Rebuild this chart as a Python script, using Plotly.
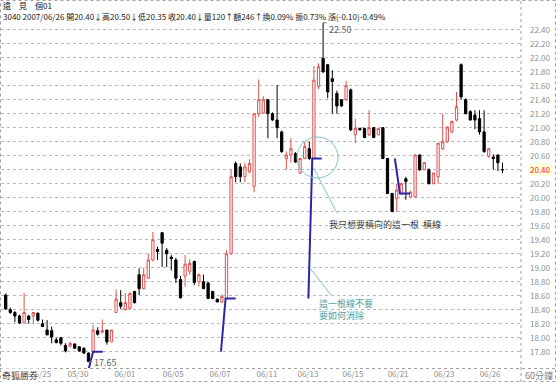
import plotly.graph_objects as go

# ---------------- data (60-minute bars, 3040 遠見) ----------------
opens = [18.61, 18.40, 18.36, 18.31, 18.21, 18.31, 18.31, 18.35, 18.20, 18.11,
         18.10, 17.97, 18.00, 17.89, 17.88, 17.91, 17.87, 17.85, 17.78, 17.80,
         18.10, 18.08, 18.11, 17.94, 18.36, 18.50, 18.40, 18.42, 18.66, 18.90,
         18.70, 18.85, 19.11, 19.26, 19.50, 19.25, 19.15, 19.11, 18.83, 18.88,
         18.95, 19.09, 18.80, 18.80, 18.78, 18.66, 18.55, 18.51, 18.56, 19.20,
         20.49, 20.44, 20.30, 20.37, 20.16, 21.20, 21.21, 21.40, 21.20, 21.11,
         20.94, 20.56, 20.61, 20.63, 20.35, 20.56, 20.70, 20.56, 21.59, 21.99,
         21.90, 21.70, 21.49, 21.40, 21.40, 21.54, 20.90, 20.99, 20.99, 20.90,
         21.00, 20.90, 21.00, 20.56, 20.06, 19.99, 20.06, 20.27, 20.01, 20.01,
         20.61, 20.40, 20.40, 20.20, 20.30, 20.70, 20.80, 20.94, 21.11, 21.90,
         21.40, 21.23, 21.18, 21.13, 20.94, 20.59, 20.58, 20.61, 20.40]
highs = [18.63, 18.43, 18.38, 18.33, 18.64, 18.32, 18.36, 18.36, 18.26, 18.25,
         18.16, 18.00, 18.01, 17.92, 17.94, 17.92, 17.88, 17.86, 17.79, 18.18,
         18.15, 18.26, 18.11, 18.11, 18.69, 18.68, 18.64, 18.65, 18.67, 18.99,
         19.00, 19.20, 19.51, 19.30, 19.51, 19.28, 19.18, 19.14, 18.88, 19.18,
         19.12, 19.10, 18.92, 18.90, 18.80, 18.67, 18.56, 18.62, 19.25, 20.40,
         20.52, 20.49, 20.50, 20.55, 21.20, 21.69, 21.45, 21.41, 21.22, 21.61,
         20.96, 20.66, 20.85, 20.65, 20.56, 20.80, 20.80, 21.88, 21.92, 22.50,
         21.91, 21.82, 21.53, 21.41, 21.67, 21.56, 21.13, 21.00, 21.00, 21.25,
         21.01, 21.00, 21.01, 20.57, 20.07, 20.20, 20.22, 20.30, 20.10, 20.62,
         20.62, 20.51, 20.42, 20.36, 20.78, 21.20, 21.02, 21.10, 21.51, 21.92,
         21.42, 21.25, 21.25, 21.25, 21.25, 20.71, 20.62, 20.62, 20.50]
lows = [18.40, 18.34, 18.22, 18.20, 18.21, 18.20, 18.20, 18.23, 18.16, 18.04,
        17.92, 17.92, 17.89, 17.79, 17.86, 17.84, 17.80, 17.77, 17.65, 17.80,
        18.03, 18.06, 17.90, 17.94, 18.36, 18.41, 18.39, 18.40, 18.49, 18.61,
        18.69, 18.84, 19.09, 19.11, 19.01, 19.01, 18.96, 18.78, 18.56, 18.73,
        18.90, 18.75, 18.73, 18.70, 18.56, 18.55, 18.51, 18.50, 18.55, 19.18,
        20.22, 20.22, 20.22, 20.35, 20.08, 21.15, 21.20, 20.85, 21.10, 20.85,
        20.64, 20.40, 20.50, 20.50, 20.34, 20.55, 20.54, 20.55, 21.55, 21.78,
        21.42, 21.20, 21.20, 21.30, 21.38, 20.95, 20.78, 20.96, 20.85, 20.88,
        20.85, 20.89, 20.55, 20.05, 19.80, 19.80, 20.04, 19.97, 20.00, 20.00,
        20.38, 20.39, 20.19, 20.19, 20.20, 20.68, 20.78, 20.92, 21.09, 21.40,
        21.19, 21.10, 20.98, 20.90, 20.64, 20.57, 20.40, 20.38, 20.35]
closes = [18.41, 18.36, 18.31, 18.21, 18.36, 18.26, 18.36, 18.25, 18.16, 18.04,
          18.01, 17.93, 17.92, 17.81, 17.92, 17.85, 17.81, 17.78, 17.66, 18.11,
          18.05, 18.10, 17.94, 18.11, 18.55, 18.45, 18.50, 18.63, 18.50, 18.70,
          18.90, 19.11, 19.40, 19.23, 19.35, 19.20, 19.13, 18.85, 18.57, 19.05,
          19.06, 18.79, 18.90, 18.70, 18.56, 18.56, 18.51, 18.59, 19.20, 20.30,
          20.30, 20.30, 20.44, 20.49, 21.20, 21.40, 21.40, 21.20, 21.11, 21.00,
          20.66, 20.61, 20.70, 20.51, 20.56, 20.73, 20.56, 21.68, 21.87, 21.80,
          21.51, 21.66, 21.31, 21.31, 21.60, 20.97, 20.99, 20.97, 20.86, 21.00,
          20.86, 20.99, 20.56, 20.06, 19.80, 20.11, 20.20, 20.23, 20.08, 20.61,
          20.40, 20.50, 20.20, 20.35, 20.78, 20.80, 21.01, 21.09, 21.30, 21.44,
          21.20, 21.11, 21.11, 20.94, 20.66, 20.70, 20.56, 20.50, 20.40]

# date labels along the bottom axis (bar index where each label sits)
date_labels = ["05/25", "05/30", "06/01", "06/05", "06/07", "06/11",
               "06/13", "06/15", "06/21", "06/23", "06/26"]
date_bars = [7.6, 15.7, 25.9, 36.4, 46.6, 56.8, 65.7, 75.5, 85.3, 95.3, 105.3]

price_ticks = [17.80, 18.00, 18.20, 18.40, 18.60, 18.80, 19.00, 19.20, 19.40,
               19.60, 19.80, 20.00, 20.20, 20.40, 20.60, 20.80, 21.00, 21.20,
               21.40, 21.60, 21.80, 22.00, 22.20, 22.40]
last_price = 20.40
high_mark = (69, 22.50)
low_mark = (18, 17.65)

# hand-drawn blue line segments (bar index, price)
blue_x = [18.0, 19.0, 21.1, None, 46.8, 47.8, 50.0, None,
          65.8, 66.65, 68.7, None, 84.6, 85.7, 87.9]
blue_y = [17.54, 17.80, 17.80, None, 17.80, 18.56, 18.56, None,
          18.56, 20.56, 20.56, None, 20.56, 20.06, 20.06]

header1 = "遠　見　個01"
header2 = ("3040 2007/06/26 開20.40↓高20.50↓低20.35 收20.40↓量120↑額246↑"
           "換0.09% 振0.73% 漲(-0.10)-0.49%")
note1 = "我只想要橫向的這一根  橫線"
note2 = "這一根線不要<br>要如何消除"

# ---------------- layout geometry ----------------
W, H = 556, 382
ML, MR, MT, MB = 1, 35, 20, 14
PW = W - ML - MR
PH = H - MT - MB
X0, DX = 5.7, 4.6          # pixel of bar 0 and bar spacing
Y20, PPU = 197.7, 70.0     # pixel of price 20.00, pixels per 1.00


def pxp(x):
    return (x - ML) / PW


def pyp(y):
    return (H - MB - y) / PH


x_lo = (ML - X0) / DX
x_hi = (W - MR - X0) / DX
y_hi = 20 + (Y20 - MT) / PPU
y_lo = 20 - (H - MB - Y20) / PPU

FONT = "Noto Sans CJK TC, Noto Sans, sans-serif"
idx = list(range(len(opens)))

fig = go.Figure()
fig.add_trace(go.Candlestick(
    x=idx, open=opens, high=highs, low=lows, close=closes,
    increasing=dict(line=dict(color="#e05050", width=1), fillcolor="white"),
    decreasing=dict(line=dict(color="#000000", width=1), fillcolor="#000000"),
    whiskerwidth=0, showlegend=False, hoverinfo="skip"))

fig.add_trace(go.Scatter(
    x=blue_x, y=blue_y, mode="lines", connectgaps=False,
    line=dict(color="#2828a8", width=2), showlegend=False, hoverinfo="skip",
    cliponaxis=False))

shapes = []
dot = dict(color="#a0a0a0", width=1, dash="dot")
# outer frame
shapes.append(dict(type="rect", xref="paper", yref="paper",
                   x0=pxp(0.5), x1=pxp(W - 0.5), y0=pyp(H - 0.5), y1=pyp(0.5),
                   line=dot))
# right axis separator
shapes.append(dict(type="line", xref="paper", yref="paper",
                   x0=pxp(521), x1=pxp(521), y0=pyp(H), y1=pyp(0), line=dot))
# bottom axis line
shapes.append(dict(type="line", xref="paper", yref="paper",
                   x0=pxp(0), x1=pxp(W), y0=pyp(368.5), y1=pyp(368.5), line=dot))
# high / low marker ticks
shapes.append(dict(type="line", xref="x", yref="y",
                   x0=high_mark[0], x1=high_mark[0] + 0.8,
                   y0=high_mark[1], y1=high_mark[1],
                   line=dict(color="#808080", width=1)))
shapes.append(dict(type="line", xref="x", yref="y",
                   x0=low_mark[0], x1=low_mark[0] + 0.8,
                   y0=low_mark[1], y1=low_mark[1] + 0.03,
                   line=dict(color="#808080", width=1)))
# cyan circle and pointer lines
cyan = dict(color="#7cc4c4", width=1)
shapes.append(dict(type="circle", xref="paper", yref="paper",
                   x0=pxp(297), x1=pxp(338), y0=pyp(178), y1=pyp(137),
                   line=cyan))
shapes.append(dict(type="line", xref="paper", yref="paper",
                   x0=pxp(313), x1=pxp(337), y0=pyp(167), y1=pyp(213),
                   line=cyan))
shapes.append(dict(type="line", xref="paper", yref="paper",
                   x0=pxp(310), x1=pxp(331), y0=pyp(268), y1=pyp(295),
                   line=cyan))

annotations = []
annotations.append(dict(xref="paper", yref="paper", x=pxp(2), y=pyp(5.5),
                        text=header1, showarrow=False, xanchor="left",
                        yanchor="middle", borderpad=0,
                        font=dict(size=8, color="#202020")))
annotations.append(dict(xref="paper", yref="paper", x=pxp(2), y=pyp(16.5),
                        text=header2, showarrow=False, xanchor="left",
                        yanchor="middle", borderpad=0,
                        font=dict(size=8, color="#202020")))
annotations.append(dict(xref="paper", yref="paper", x=pxp(1), y=pyp(375),
                        text="奇狐勝券", showarrow=False, xanchor="left",
                        yanchor="middle", bgcolor="white", borderpad=0,
                        font=dict(size=9, color="#404040")))
annotations.append(dict(xref="paper", yref="paper", x=pxp(523), y=pyp(375),
                        text="60分鐘", showarrow=False, xanchor="left",
                        yanchor="middle", font=dict(size=9, color="#808080")))
annotations.append(dict(xref="paper", yref="y", x=pxp(529), y=last_price,
                        text=f"{last_price:.2f}", showarrow=False,
                        xanchor="left", yanchor="middle", bgcolor="#ffffd8",
                        borderpad=0, font=dict(size=8, color="#ff2020")))
annotations.append(dict(xref="x", yref="y", x=high_mark[0] + 0.8,
                        y=high_mark[1], text=f"{high_mark[1]:.2f}",
                        showarrow=False, xanchor="left", yanchor="top",
                        yshift=2,
                        font=dict(size=9, color="#606060")))
annotations.append(dict(xref="x", yref="y", x=low_mark[0] + 0.8,
                        y=low_mark[1], text=f"{low_mark[1]:.2f}",
                        showarrow=False, xanchor="left", yanchor="middle",
                        font=dict(size=9, color="#606060")))
annotations.append(dict(xref="paper", yref="paper", x=pxp(327), y=pyp(224),
                        text=note1, showarrow=False, xanchor="left",
                        yanchor="middle", font=dict(size=9, color="#404040")))
annotations.append(dict(xref="paper", yref="paper", x=pxp(317), y=pyp(309),
                        text=note2, showarrow=False, xanchor="left",
                        yanchor="middle", align="left",
                        font=dict(size=9, color="#48a0a0")))

fig.update_layout(
    width=W, height=H,
    margin=dict(l=ML, r=MR, t=MT, b=MB, pad=0),
    paper_bgcolor="white", plot_bgcolor="white",
    font=dict(family=FONT, size=8, color="#808080"),
    shapes=shapes, annotations=annotations,
    xaxis=dict(range=[x_lo, x_hi], rangeslider=dict(visible=False),
               showgrid=False, zeroline=False, showline=False,
               tickmode="array", tickvals=date_bars, ticktext=date_labels,
               ticks="", tickfont=dict(size=8, color="#909090"),
               ticklabelstandoff=0),
    yaxis=dict(range=[y_lo, y_hi], side="right", showgrid=True,
               gridcolor="#b8b8b8", griddash="dot", gridwidth=1,
               zeroline=False, showline=False,
               tickmode="array", tickvals=price_ticks,
               ticktext=["" if abs(v - last_price) < 1e-9 else f"{v:.2f}"
                         for v in price_ticks],
               ticks="", tickfont=dict(size=8, color="#909090"),
               ticklabelstandoff=8),
)

fig.write_html("out.html")
